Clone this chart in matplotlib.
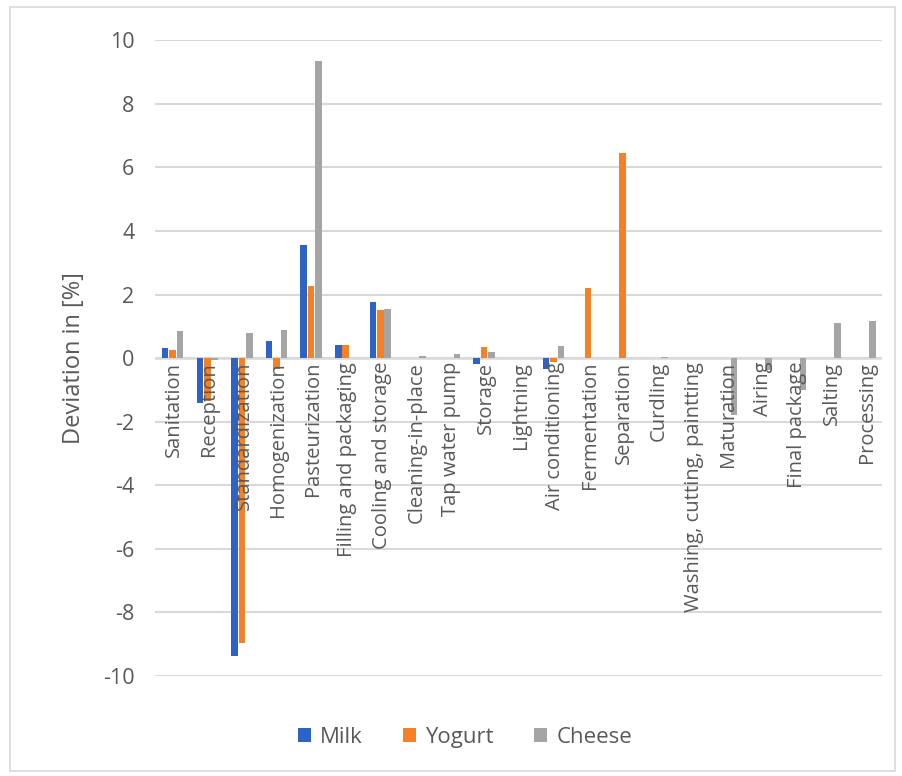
import numpy as np
import matplotlib.pyplot as plt
from matplotlib.patches import Rectangle

plt.rcParams['font.family'] = ['Open Sans', 'DejaVu Sans']
plt.rcParams['axes.unicode_minus'] = False

etapas = ["Sanitation", "Reception", "Standardization", "Homogenization",
          "Pasteurization", "Filling and packaging", "Cooling and storage",
          "Cleaning-in-place", "Tap water pump", "Storage", "Lightning",
          "Air conditioning", "Fermentation", "Separation", "Curdling",
          "Washing, cutting, paintting", "Maturation", "Airing",
          "Final package", "Salting", "Processing"]

leite = [0.31, -1.42, -9.37, 0.53, 3.55, 0.40, 1.76, 0, 0, -0.18, 0,
         -0.33, 0, 0, 0, 0, 0, 0, 0, 0, 0]
iogurte = [0.25, -1.35, -8.96, -0.35, 2.28, 0.40, 1.50, 0, 0, 0.35, 0,
           -0.12, 2.22, 6.45, 0, 0, 0, 0, 0, 0, 0]
queijo = [0.85, -0.05, 0.78, 0.90, 9.34, 0, 1.54, 0.06, 0.12, 0.20, 0,
          0.38, 0, 0, 0.04, 0, -1.80, -0.37, -1.00, 1.10, 1.17]

series = {"Milk": leite, "Yogurt": iogurte, "Cheese": queijo}
cores = {"Milk": "#2D62C6", "Yogurt": "#F58025", "Cheese": "#A5A5A5"}

fig = plt.figure(figsize=(9.03, 7.76), dpi=100)
ax = fig.add_axes([0.172, 0.129, 0.805, 0.819])

x = np.arange(len(etapas))
largura = 0.19
for i, (nome, valores) in enumerate(series.items()):
    ax.bar(x + (i - 1) * 0.215, valores, largura, color=cores[nome],
           label=nome, zorder=3)

ax.set_xlim(-0.5, len(etapas) - 0.5)
ax.set_ylim(-10, 10)
ax.set_yticks(np.arange(-10, 11, 2))
ax.tick_params(axis='y', length=0, labelsize=15.5, labelcolor="#595959", pad=15)
ax.set_xticks([])
ax.grid(axis='y', color="#D9D9D9", linewidth=1.5, zorder=0)
ax.axhline(0, color="#D9D9D9", linewidth=1.8, zorder=2)
for lado in ax.spines.values():
    lado.set_visible(False)

# rótulos das categorias logo abaixo do zero
for xi, nome in zip(x, etapas):
    ax.text(xi + 0.05, -0.12, nome, rotation=90, ha='center', va='top',
            fontsize=14.5, color="#595959", zorder=4)

ax.set_ylabel("Deviation in [%]", fontsize=17, color="#595959", labelpad=12)

fig.legend(loc='lower center', bbox_to_anchor=(0.515, 0.01), ncol=3,
           frameon=False, fontsize=16, handlelength=0.6, handleheight=0.6,
           columnspacing=1.8, handletextpad=0.4, labelcolor="#595959")

fig.patches.append(Rectangle((0.011, 0.007), 0.98, 0.984,
                             transform=fig.transFigure, fill=False,
                             edgecolor="#D9D9D9", linewidth=1.2))

fig.savefig("out.png", dpi=100)
